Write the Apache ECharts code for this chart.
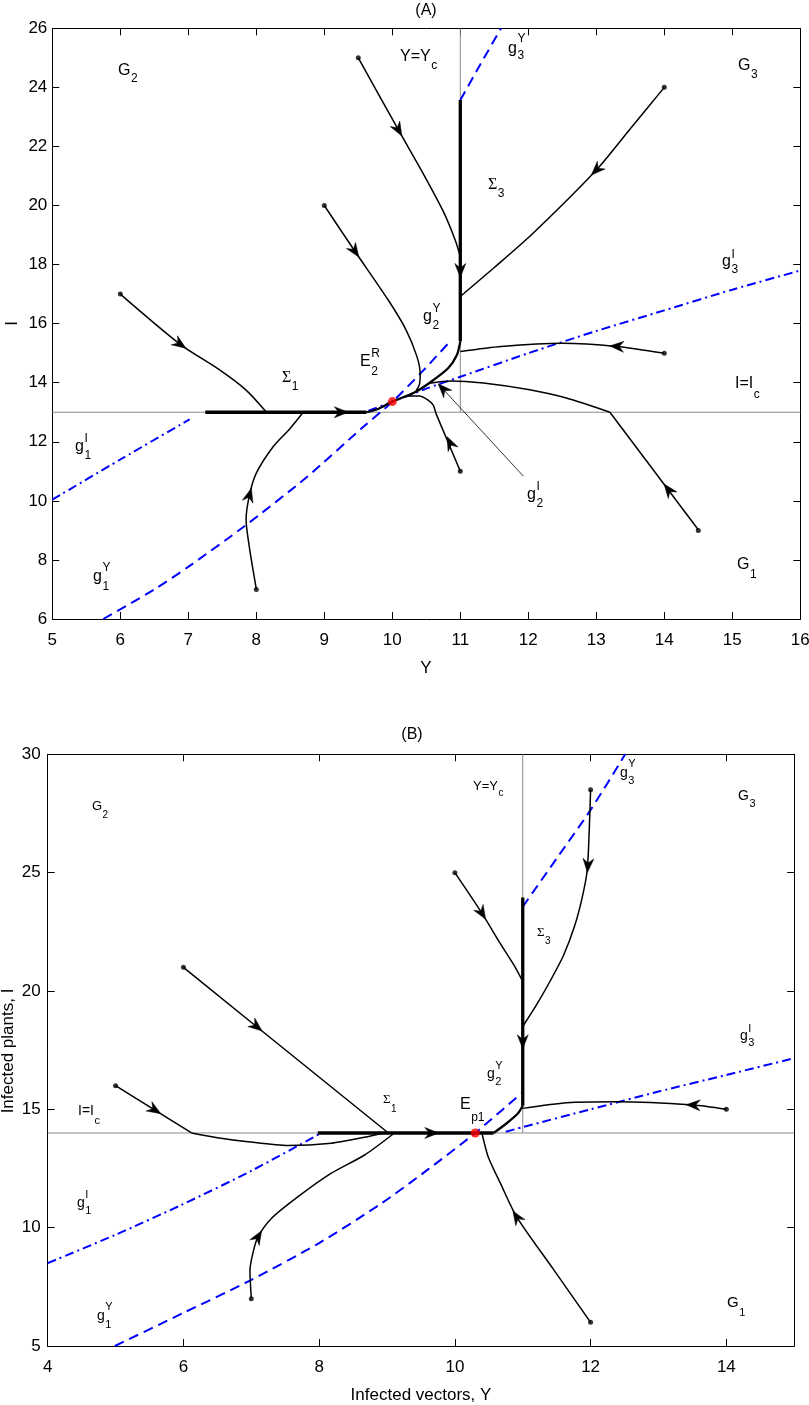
<!DOCTYPE html>
<html><head><meta charset="utf-8">
<script src="https://cdn.jsdelivr.net/npm/echarts@6/dist/echarts.min.js"></script>
<style>html,body{margin:0;padding:0;background:#fff}#c{width:809px;height:1405px}</style>
</head><body><div id="c"></div><script>
// ================= Panel A data =================
const A_x = [5, 16, 1];           // min, max, step
const A_y = [6, 26, 2];
const A_Ic = 13, A_Yc = 11;
const A_gI1  = [[5,10.04],[6,11.4],[7.02,12.76]];
const A_gI23 = [[9.65,13.05],[10,13.35],[10.5,13.8],[11,14.2],[12,15.0],[13,15.75],[14,16.45],[15,17.15],[16,17.8]];
const A_gY12 = [[5.75,6],[6.5,7.0],[7.02,7.8],[7.83,9.15],[8.74,10.8],[9.57,12.5],[10,13.35],[10.45,14.4],[10.87,15.45]];
const A_gY3  = [[11,23.57],[11.3,24.8],[11.6,26]];
const A_t1 = [[6,17],[6.88,15.3],[7.45,14.45],[7.85,13.75],[8.15,13.0]];
const A_t2 = [[8,7.02],[7.9,8.4],[7.85,9.36],[7.9,10.2],[8.0,10.94],[8.25,11.84],[8.5,12.46],[8.69,13.0]];
const A_t3 = [[9,20],[9.45,18.45],[9.94,16.8],[10.2,15.8],[10.36,14.9],[10.41,14.3],[10.4,13.95],[10.35,13.72]];
const A_t4 = [[9.5,25],[10.09,22.56],[10.45,21.1],[10.75,19.8],[10.93,18.8],[11,18.27]];
const A_t5 = [[14,24],[13.5,22.6],[13,21.2],[12.07,19.06],[11.5,17.9],[11,16.92]];
const A_t6 = [[14,15],[13.3,15.23],[12.5,15.34],[11.6,15.23],[11,15.06]];
const A_t7s = [[14.5,9.02],[13.2,13.0]];
const A_t7c = [[13.2,13.0],[12.56,13.48],[12.02,13.76],[11.34,13.99],[10.85,14.06],[10.55,13.98]];
const A_t8s = [[11,11],[10.64,12.97]];
const A_t8c = [[10.64,12.97],[10.6,13.25],[10.52,13.42],[10.4,13.55],[10.2,13.55]];
const A_sigma1 = [[7.25,13],[9.62,13]];
const A_slide  = [[9.62,13],[9.8,13.12],[10,13.36],[10.31,13.65],[10.55,14.0],[10.82,14.49],[10.95,14.94],[11,15.4]];
const A_sigma3 = [[11,15.4],[11,23.57]];
const A_pointer = [[11.93,10.83],[10.68,13.95]];
const A_arrows = [
  [6.88,15.3, 7.3,14.63],
  [7.9,10.2, 7.96,10.7],
  [9.45,18.45, 9.94,16.8],
  [10.09,22.56, 10.45,21.1],
  [13.0,21.2, 12.5,20.05],
  [13.3,15.23, 12.5,15.34],
  [14.06,10.38, 13.2,13.0],
  [10.85,11.96, 10.7,12.7],
  [9.25,13, 9.6,13],
  [11,17.8, 11,17],
  [10.745,13.79, 10.68,13.95]
];
const A_starts = [[6,17],[8,7],[9,20],[9.5,25],[14,24],[14,15],[14.5,9],[11,11]];
const A_eq = [[10,13.36]];

// ================= Panel B data =================
const B_x = [4, 15, 2];
const B_y = [5, 30, 5];
const B_Ic = 14, B_Yc = 11;
const B_gI1  = [[4,8.5],[5,9.7],[5.97,10.96],[7,12.4],[8,13.95]];
const B_gI23 = [[10.75,14.05],[11,14.25],[12,15.0],[13,15.75],[14,16.45],[15,17.16]];
const B_gY12 = [[4.99,5.0],[6,6.4],[6.95,7.72],[8,9.35],[8.92,11.03],[9.6,12.45],[10.3,14.0],[10.98,15.68]];
const B_gY3  = [[11,23.56],[11.5,25.6],[12,27.65],[12.51,30]];
const B_u1 = [[6,21],[7.08,18.49],[9.02,14.0]];
const B_u2s = [[5,16],[5.58,14.97],[6.12,14.0]];
const B_u2c = [[6.12,14.0],[6.5,13.8],[6.95,13.63],[7.54,13.47],[8.18,13.57],[8.67,13.82],[8.95,14.0]];
const B_u3 = [[7.0,7.02],[6.98,8.2],[7.03,9.0],[7.1,9.62],[7.3,10.4],[7.69,11.31],[8.18,12.3],[8.67,13.07],[9.11,14.0]];
const B_u4 = [[10,25],[10.4,23.28],[10.67,22.0],[10.89,21.0],[11,20.4]];
const B_u5 = [[12,28.5],[11.98,26.8],[11.95,25.1],[11.88,24.0],[11.77,22.8],[11.6,21.5],[11.4,20.4],[11.2,19.4],[11,18.5]];
const B_u6 = [[14,15],[13.51,15.18],[12.4,15.32],[11.65,15.28],[11,15.04]];
const B_u7 = [[12,6],[11.45,8.25],[10.91,10.46],[10.67,11.88],[10.49,13.0],[10.41,13.85],[10.4,14.0]];
const B_sigma1 = [[7.98,14],[10.57,14]];
const B_slide  = [[10.57,14],[10.76,14.4],[10.93,14.83],[11,15.15]];
const B_sigma3 = [[11,15.15],[11,23.95]];
const B_arrows = [
  [7.08,18.49, 9.02,14.0],
  [5.58,14.97, 6.12,14.0],
  [7.1,9.62, 7.2,10.1],
  [10.4,23.28, 10.67,22.0],
  [11.96,25.3, 11.94,24.5],
  [13.51,15.18, 12.4,15.32],
  [10.91,10.46, 10.8,10.95],
  [9.66,14, 10,14],
  [11,17.85, 11,17]
];
const B_starts = [[6,21],[5,16],[7,7],[10,25],[12,28.5],[14,15],[12,6]];
const B_eq = [[10.3,14.0]];

// ================= styling / layout =================
const fam = "'Liberation Sans', Arial, Helvetica, sans-serif";
const serif = "'Liberation Serif', 'Times New Roman', serif";
const BLUE = '#0000ff', GRAY = '#8a8a8a';
const DASH = [10,6], DASHDOT = [9,4,2,4];
const SM = 0.25;

const grids = [
  {left:52.3, top:28.3, width:748, height:590.7},
  {left:47.7, top:754.3, width:746.5, height:591.7}
];

function xAx(g, r, pos, labels, hideMax) {
  return {type:'value', gridIndex:g, position:pos, min:r[0], max:r[1], interval:r[2],
    axisLine:{show:true, onZero:false, lineStyle:{color:'#000', width:1}},
    axisTick:{show:true, inside:true, length:7, lineStyle:{color:'#000', width:1}},
    axisLabel:{show:labels, color:'#000', fontSize:17, fontFamily:fam, margin:13, showMinLabel:true, showMaxLabel:!hideMax},
    splitLine:{show:false}, minorTick:{show:false}};
}
function yAx(g, r, pos, labels, margin) {
  return {type:'value', gridIndex:g, position:pos, min:r[0], max:r[1], interval:r[2],
    axisLine:{show:true, onZero:false, lineStyle:{color:'#000', width:1}},
    axisTick:{show:true, inside:true, length:7, lineStyle:{color:'#000', width:1}},
    axisLabel:{show:labels, color:'#000', fontSize:17, fontFamily:fam, margin:margin, showMinLabel:true, showMaxLabel:true},
    splitLine:{show:false}, minorTick:{show:false}};
}

const S = [];
function addLine(g, data, color, width, type, smooth, z) {
  S.push({type:'line', xAxisIndex:g*2, yAxisIndex:g*2, data:data, showSymbol:false, symbol:'none',
    smooth: smooth || false, silent:true, animation:false, z:z||2,
    lineStyle:{color:color, width:width, type:type||'solid', cap:'butt', join:'round'}});
}
function arrowItem(params, api) {
  const p = api.coord([api.value(0), api.value(1)]);
  const q = api.coord([api.value(2), api.value(3)]);
  let dx = q[0]-p[0], dy = q[1]-p[1];
  const L = Math.hypot(dx, dy) || 1; dx /= L; dy /= L;
  const nx = -dy, ny = dx;
  const len = 14, hw = 5.5, notch = 4.5;
  const tip = [p[0]+dx*len/2, p[1]+dy*len/2];
  const bx = p[0]-dx*len/2, by = p[1]-dy*len/2;
  return {type:'polygon', shape:{points:[tip,[bx+nx*hw,by+ny*hw],[bx+dx*notch,by+dy*notch],[bx-nx*hw,by-ny*hw]]},
    style:{fill:'#000', stroke:'#000', lineWidth:0.5}};
}
function addArrows(g, data) {
  S.push({type:'custom', xAxisIndex:g*2, yAxisIndex:g*2, data:data, renderItem:arrowItem,
    encode:{x:0, y:1}, silent:true, animation:false, z:8, clip:false});
}
function addDots(g, data, color, size, z) {
  S.push({type:'scatter', xAxisIndex:g*2, yAxisIndex:g*2, data:data, symbol:'circle', symbolSize:size,
    itemStyle:{color:color}, silent:true, animation:false, z:z});
}

// ---- Panel A series ----
addLine(0, [[A_x[0],A_Ic],[A_x[1],A_Ic]], GRAY, 1);
addLine(0, [[A_Yc,A_Ic],[A_Yc,A_y[1]]], GRAY, 1);
addLine(0, A_gI1, BLUE, 2, DASHDOT, SM, 3);
addLine(0, A_gI23, BLUE, 2, DASHDOT, SM, 3);
addLine(0, A_gY12, BLUE, 2, DASH, SM, 3);
addLine(0, A_gY3, BLUE, 2, DASH, SM, 3);
[A_t1,A_t2,A_t3,A_t4,A_t5,A_t6,A_t7c,A_t8c].forEach(d => addLine(0, d, '#000', 1.5, 'solid', SM, 4));
[A_t7s,A_t8s].forEach(d => addLine(0, d, '#000', 1.5, 'solid', false, 4));
addLine(0, A_pointer, '#000', 0.8, 'solid', false, 4);
addLine(0, A_slide, '#000', 2.3, 'solid', SM, 5);
addLine(0, A_sigma1, '#000', 3.3, 'solid', false, 5);
addLine(0, A_sigma3, '#000', 3.3, 'solid', false, 5);
addArrows(0, A_arrows);
addDots(0, A_starts, '#000', 5, 9);
addDots(0, A_eq, '#ff0000', 9, 10);

// ---- Panel B series ----
addLine(1, [[B_x[0],B_Ic],[B_x[1],B_Ic]], GRAY, 1);
addLine(1, [[B_Yc,B_Ic],[B_Yc,B_y[1]]], GRAY, 1);
addLine(1, B_gI1, BLUE, 2, DASHDOT, SM, 3);
addLine(1, B_gI23, BLUE, 2, DASHDOT, SM, 3);
addLine(1, B_gY12, BLUE, 2, DASH, SM, 3);
addLine(1, B_gY3, BLUE, 2, DASH, SM, 3);
[B_u2s,B_u2c,B_u3,B_u4,B_u5,B_u6,B_u7].forEach(d => addLine(1, d, '#000', 1.5, 'solid', SM, 4));
addLine(1, B_u1, '#000', 1.5, 'solid', false, 4);
addLine(1, B_slide, '#000', 2.3, 'solid', SM, 5);
addLine(1, B_sigma1, '#000', 3.3, 'solid', false, 5);
addLine(1, B_sigma3, '#000', 3.3, 'solid', false, 5);
addArrows(1, B_arrows);
addDots(1, B_starts, '#000', 5, 9);
addDots(1, B_eq, '#ff0000', 9, 10);

// ---- text annotations (pixel layout) ----
const ctx = document.createElement('canvas').getContext('2d');
function tw(t, font) { ctx.font = font; return ctx.measureText(t).width; }
function txt(x, y, text, font) {
  return {type:'text', x:x, y:y, silent:true, z:100,
    style:{text:text, font:font, fill:'#000', align:'left', verticalAlign:'middle', textAlign:'left', textVerticalAlign:'middle'}};
}
const G = [];
// [x, y, base, sup, sub, size, small, supDy, subDy, isSerif]
const LABELS = [
  [118,71,'G',null,'2',16,12,0,8,false],
  [400,57,'Y=Y',null,'c',16,12,0,9,false],
  [508,49,'g','Y','3',16,12,-10,7,false],
  [738,66,'G',null,'3',16,12,0,9,false],
  [488,185,'\u03A3',null,'3',16,12,0,9,true],
  [722,262,'g','I','3',16,12,-7,8,false],
  [423,317,'g','Y','2',16,12,-8,9,false],
  [360,362,'E','R','2',16,12,-8,10,false],
  [282,378,'\u03A3',null,'1',16,12,0,9,true],
  [735,384,'I=I',null,'c',16,12,0,11,false],
  [75,447,'g','I','1',16,12,-8,9,false],
  [527,495,'g','I','2',16,12,-8,9,false],
  [93,577,'g','Y','1',16,12,-9,10,false],
  [737,565,'G',null,'1',16,12,0,10,false],
  [92,806,'G',null,'2',13,10,0,9,false],
  [473,786,'Y=Y',null,'c',13,10,0,7,false],
  [620,773,'g','Y','3',14,11,-9,8,false],
  [738,796,'G',null,'3',14,11,0,8,false],
  [537,933,'\u03A3',null,'3',13,10,0,8,true],
  [740,1036,'g','I','3',14,11,-7,7,false],
  [487,1074,'g','Y','2',14,11,-8,8,false],
  [460,1105,'E',null,'p1',16,12,0,13,false],
  [383,1100,'\u03A3',null,'1',13,10,0,9,true],
  [78,1111,'I=I',null,'c',14,11,0,10,false],
  [77,1203,'g','I','1',14,11,-8,8,false],
  [97,1316,'g','Y','1',14,11,-9,9,false],
  [727,1303,'G',null,'1',15,11,0,10,false]
];
LABELS.forEach(L => {
  const f = L[5] + 'px ' + (L[9] ? serif : fam);
  const fs = L[6] + 'px ' + fam;
  G.push(txt(L[0], L[1], L[2], f));
  const w = tw(L[2], f);
  if (L[3]) G.push(txt(L[0]+w+0.5, L[1]+L[7], L[3], fs));
  if (L[4]) G.push(txt(L[0]+w+0.5, L[1]+L[8], L[4], fs));
});
function ctr(x, y, text, size, rot) {
  return {type:'text', x:x, y:y, rotation:rot||0, silent:true, z:100,
    style:{text:text, font:size+'px '+fam, fill:'#000', align:'center', verticalAlign:'middle', textAlign:'center', textVerticalAlign:'middle'}};
}
G.push(ctr(426, 11, '(A)', 16));
G.push(ctr(412, 735, '(B)', 16));
G.push(ctr(426, 668, 'Y', 17));
G.push(ctr(12.3, 323.5, 'I', 17, Math.PI/2));
G.push(ctr(421, 1395, 'Infected vectors, Y', 17));
G.push(ctr(8.5, 1051, 'Infected plants, I', 17, Math.PI/2));

const option = {
  animation:false,
  backgroundColor:'#fff',
  grid: grids.map(g => Object.assign({containLabel:false, outerBoundsMode:'none'}, g)),
  xAxis: [xAx(0,A_x,'bottom',true,false), xAx(0,A_x,'top',false,false), xAx(1,B_x,'bottom',true,true), xAx(1,B_x,'top',false,false)],
  yAxis: [yAx(0,A_y,'left',true,5), yAx(0,A_y,'right',false,5), yAx(1,B_y,'left',true,7), yAx(1,B_y,'right',false,7)],
  series: S,
  graphic: {elements: G}
};
const chart = echarts.init(document.getElementById('c'), null, {renderer:'canvas'});
chart.setOption(option);
</script></body></html>
